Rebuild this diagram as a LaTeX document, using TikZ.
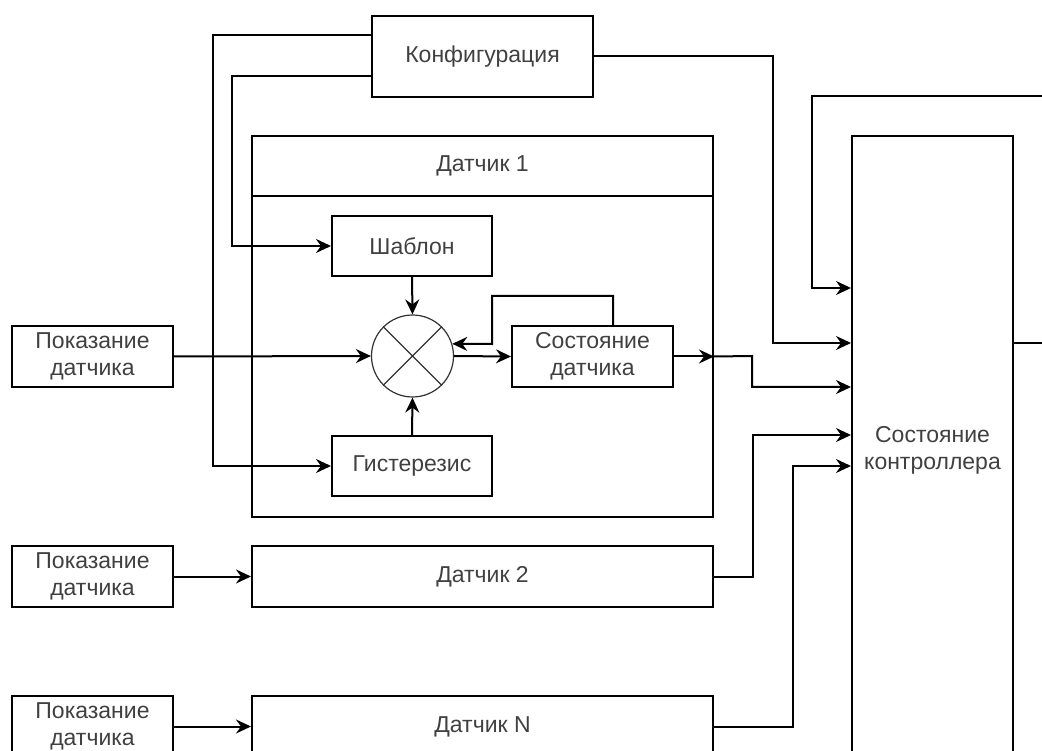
\documentclass[tikz,border=0pt]{standalone}
\usepackage{fontspec}
\setmainfont{Liberation Sans}
\usetikzlibrary{arrows.meta,calc}
\begin{document}
\begin{tikzpicture}[x=1pt,y=-1pt,
  every node/.style={font=\fontsize{23}{27}\selectfont, text=black!75},
  blk/.style={draw=black, line width=2pt, rectangle, inner sep=0pt, align=center},
  ln/.style={draw=black, line width=2pt},
  arr/.style={ln, -{Stealth[length=15pt,width=14pt,inset=5pt]}},
  sum/.style={draw=black!80, line width=1.2pt, circle, minimum size=82pt, inner sep=0pt}
]
\clip (0,0) rectangle (1042,751);
% blocks
\node[blk, minimum width=221pt, minimum height=81pt] (config) at (482.5,56.5) {Конфигурация};
\node[blk, minimum width=461pt, minimum height=381pt] (d1) at (482.5,326.5) {};
\draw[ln] (d1.west |- 0,196) -- (d1.east |- 0,196);
\node (d1t) at (482.5,166) {Датчик 1};
\node[blk, minimum width=160pt, minimum height=60pt] (shab) at (412,246) {Шаблон};
\node[blk, minimum width=160pt, minimum height=60pt] (gist) at (412,466) {Гистерезис};
\node[sum] (circ) at (412.5,356) {};
\draw[black!80, line width=1.2pt] (circ.45) -- (circ.225) (circ.135) -- (circ.315);
\node[blk, minimum width=161pt, minimum height=61pt] (state) at (592.5,356.5) {Состояние\\датчика};
\node[blk, minimum width=161pt, minimum height=61pt] (pok1) at (92.5,356.5) {Показание\\датчика};
\node[blk, minimum width=161pt, minimum height=61pt] (pok2) at (92.5,576.5) {Показание\\датчика};
\node[blk, minimum width=161pt, minimum height=61pt] (pokN) at (92.5,726.5) {Показание\\датчика};
\node[blk, minimum width=461pt, minimum height=61pt] (d2) at (482.5,576.5) {Датчик 2};
\node[blk, minimum width=461pt, minimum height=61pt] (dN) at (482.5,726.5) {Датчик N};
\node[blk, minimum width=161pt, minimum height=628pt] (ctrl) at (932.5,450) {Состояние\\контроллера};
\coordinate (outR) at (1045,343);
\coordinate (inR) at (1045,96);
% connectors
\draw[arr] (config.west |- 0,35) -- (213,35) -- (213,466) -- (gist.west);
\draw[arr] (config.west |- 0,76) -- (232,76) -- (232,246) -- (shab.west);
\draw[arr] (config.east |- 0,56) -- (773,56) -- (773,343) -- (ctrl.west |- 0,343);
\draw[arr] (shab.south) -- (circ.north);
\draw[arr] (gist.north) -- (circ.south);
\draw[arr] (pok1.east) -- (circ.west);
\draw[arr] (circ.east) -- (state.west);
\draw[arr] (state.north -| 613,0) -- (613,296) -- (492,296) -- (492,344) -- (circ.17);
\draw[arr] (state.east) -- (state.east -| d1.east);
\draw[arr] (state.east -| d1.east) -- (752,356) -- (752,387) -- (ctrl.west |- 0,387);
\draw[ln] (ctrl.east |- outR) -- (outR);
\draw[arr] (inR) -- (812,96) -- (812,288) -- (ctrl.west |- 0,288);
\draw[arr] (d2.east) -- (753,576.5) -- (753,435) -- (ctrl.west |- 0,435);
\draw[arr] (dN.east) -- (793,726.5) -- (793,466) -- (ctrl.west |- 0,466);
\draw[arr] (pok2.east) -- (d2.west);
\draw[arr] (pokN.east) -- (dN.west);
\end{tikzpicture}
\end{document}
